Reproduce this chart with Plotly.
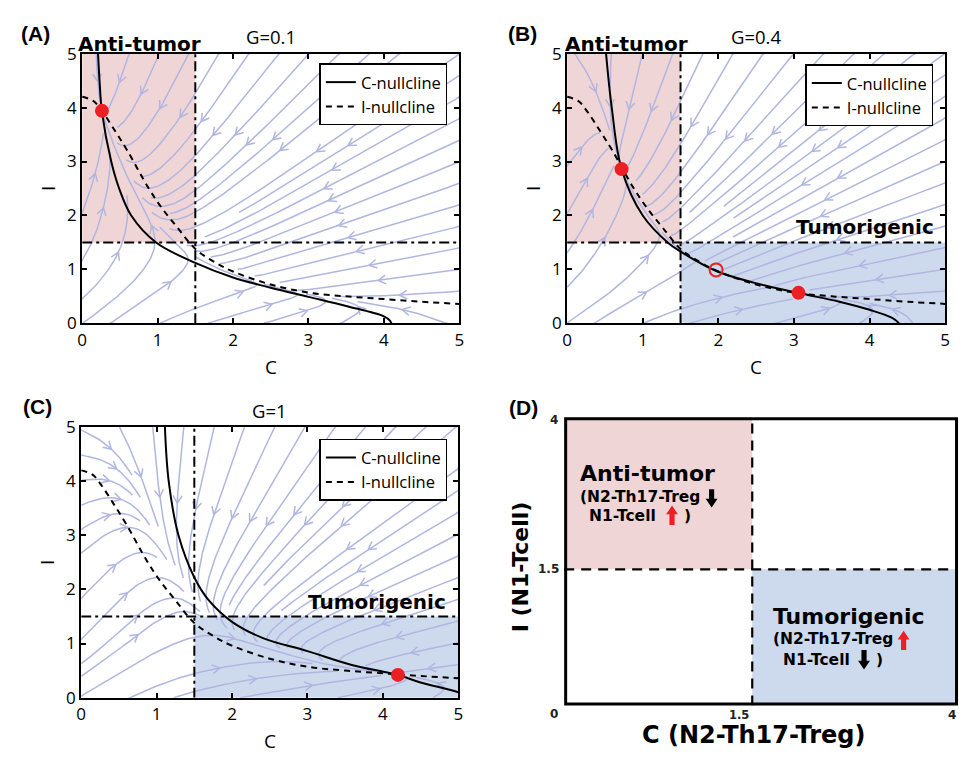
import math
import numpy as np
import plotly.graph_objects as go

# ------------------------------------------------------------------ data
AXIS_TICKS = [0, 1, 2, 3, 4, 5]
THRESHOLD = 1.5
G_TITLES = ["G=0.1", "G=0.4", "G=1"]
PANEL_LETTERS = ["(A)", "(B)", "(C)", "(D)"]

# I-nullcline (same in all panels): I as a function of C
I_NULL_C = [0.0, 0.15, 0.27, 0.43, 0.6, 0.87, 1.05, 1.26, 1.5, 1.75, 2.0, 2.5, 3.0, 3.5, 4.0, 4.5, 5.0]
I_NULL_I = [4.2, 4.12, 3.92, 3.58, 3.2, 2.53, 2.15, 1.78, 1.38, 1.14, 0.96, 0.72, 0.57, 0.5, 0.45, 0.4, 0.36]

# C-nullclines: C as a function of I
C_NULL_A_I = [0.0, 0.05, 0.13, 0.32, 0.49, 0.66, 0.85, 1.12, 1.5, 2.0, 2.5, 3.0, 3.92, 4.5, 5.0]
C_NULL_A_C = [4.1, 4.08, 4.0, 3.5, 3.0, 2.5, 2.0, 1.5, 0.98, 0.65, 0.49, 0.385, 0.262, 0.23, 0.21]

C_NULL_B_I = [0.0, 0.1, 0.25, 0.4, 0.565, 0.75, 0.965, 1.33, 1.5, 2.0, 2.86, 4.0, 5.0]
C_NULL_B_C = [4.39, 4.3, 4.0, 3.6, 3.05, 2.48, 1.98, 1.5, 1.33, 1.0, 0.72, 0.59, 0.515]

C_NULL_C_I = [0.0, 0.1, 0.28, 0.42, 0.6, 0.86, 1.1, 1.4, 1.8, 2.22, 3.0, 4.0, 5.0]
C_NULL_C_C = [5.15, 5.0, 4.5, 4.2, 3.6, 3.0, 2.41, 2.0, 1.69, 1.5, 1.29, 1.16, 1.11]

# steady states
STABLE_A_C, STABLE_A_I = [0.262], [3.94]
STABLE_B_C, STABLE_B_I = [0.72, 3.06], [2.86, 0.565]
SADDLE_B_C, SADDLE_B_I = [1.97], [0.99]
STABLE_C_C, STABLE_C_I = [4.2], [0.42]

# schematic (D): the 1.5 boundary drawn on a 0-4 schematic scale
D_RANGE = [0, 4]
D_SPLIT_X = 1.91
D_SPLIT_Y = 1.89

# ------------------------------------------------------------------ styles
W, H = 967, 761
PINK = "rgb(240,213,214)"
BLUE = "rgb(205,218,237)"
STREAM = "rgb(176,182,224)"
RED = "rgb(236,32,36)"
FONT = "Open Sans"
BOLD = "DejaVu Sans"


def PX(x):
    return x / W


def PY(y):
    return 1 - y / H


DOM = {
    "A": ([78, 459], [43, 321]),
    "B": ([568, 950], [43, 321]),
    "C": ([77, 458], [428, 707]),
    "D": ([565, 963], [418, 715]),
}


# ------------------------------------------------------------------ helpers
def pchip(x, y, xq):
    x = np.asarray(x, float)
    y = np.asarray(y, float)
    xq = np.clip(np.asarray(xq, float), x[0], x[-1])
    h = np.diff(x)
    d = np.diff(y) / h
    m = np.zeros_like(y)
    for k in range(1, len(x) - 1):
        if d[k - 1] * d[k] > 0:
            w1 = 2 * h[k] + h[k - 1]
            w2 = h[k] + 2 * h[k - 1]
            m[k] = (w1 + w2) / (w1 / d[k - 1] + w2 / d[k])

    def ends(h0, h1, d0, d1):
        s = ((2 * h0 + h1) * d0 - h0 * d1) / (h0 + h1)
        if np.sign(s) != np.sign(d0):
            s = 0.0
        elif np.sign(d0) != np.sign(d1) and abs(s) > abs(3 * d0):
            s = 3 * d0
        return s

    m[0] = ends(h[0], h[1], d[0], d[1])
    m[-1] = ends(h[-1], h[-2], d[-1], d[-2])
    k = np.clip(np.searchsorted(x, xq) - 1, 0, len(x) - 2)
    t = (xq - x[k]) / h[k]
    h00 = 2 * t**3 - 3 * t**2 + 1
    h10 = t**3 - 2 * t**2 + t
    h01 = -2 * t**3 + 3 * t**2
    h11 = t**3 - t**2
    return h00 * y[k] + h10 * h[k] * m[k] + h01 * y[k + 1] + h11 * h[k] * m[k + 1]


def spiral(n):
    xf, yf, xl, yl = 0, 0, n - 1, n - 1
    x, y = 0, 0
    d = "right"
    out = []
    for _ in range(n * n):
        out.append((x, y))
        if d == "right":
            x += 1
            if x >= xl:
                xl -= 1
                d = "up"
        elif d == "up":
            y += 1
            if y >= yl:
                yl -= 1
                d = "left"
        elif d == "left":
            x -= 1
            if x <= xf:
                xf += 1
                d = "down"
        else:
            y -= 1
            if y <= yf:
                yf += 1
                d = "right"
    return out


def streamlines(cnull_i, cnull_c, sx, sy, rate=1.0, n_seed=13, n_fine=44,
                step=2.0, min_len=45.0, max_steps=1500):
    """Phase-portrait streamlines of dC/dt = g(I)-C, dI/dt = rate*(f(C)-I),
    whose nullclines are the digitised curves above."""
    N = 500
    grid = np.linspace(0, 5, N + 1)
    gq = list(pchip(cnull_i, cnull_c, grid))
    fq = list(pchip(I_NULL_C, I_NULL_I, grid))

    def vel(c, i):
        t = min(max(i, 0.0), 5.0) * N / 5
        k = min(int(t), N - 1)
        a = t - k
        g = gq[k] + (gq[k + 1] - gq[k]) * a
        t = min(max(c, 0.0), 5.0) * N / 5
        k = min(int(t), N - 1)
        a = t - k
        f = fq[k] + (fq[k + 1] - fq[k]) * a
        return (g - c) * sx, rate * (f - i) * sy

    fine = np.zeros((n_fine, n_fine), bool)
    coarse = np.zeros((n_seed, n_seed), bool)

    def fcell(c, i):
        return (min(int(c / 5 * n_fine), n_fine - 1), min(int(i / 5 * n_fine), n_fine - 1))

    def ccell(c, i):
        return (min(int(c / 5 * n_seed), n_seed - 1), min(int(i / 5 * n_seed), n_seed - 1))

    def integrate(c, i, sgn, own):
        pts = []
        cur = fcell(c, i)
        prev = None
        for _ in range(max_steps):
            u, v = vel(c, i)
            s = math.hypot(u, v)
            if s < 0.25:
                break
            du, dv = sgn * u / s, sgn * v / s
            if prev is not None and du * prev[0] + dv * prev[1] < 0.2:
                break
            cm = c + 0.5 * step * du / sx
            im = i + 0.5 * step * dv / sy
            u2, v2 = vel(cm, im)
            s2 = math.hypot(u2, v2)
            if s2 < 1e-9:
                break
            du2, dv2 = sgn * u2 / s2, sgn * v2 / s2
            cn = c + step * du2 / sx
            inn = i + step * dv2 / sy
            if not (0 <= cn <= 5 and 0 <= inn <= 5):
                cn = min(max(cn, 0.0), 5.0)
                inn = min(max(inn, 0.0), 5.0)
                pts.append((cn, inn))
                break
            cell = fcell(cn, inn)
            if cell != cur:
                if fine[cell] and cell not in own:
                    break
                own.add(cell)
                cur = cell
            c, i = cn, inn
            pts.append((c, i))
            prev = (du2, dv2)
        return pts

    lines = []
    for (a, b) in spiral(n_seed):
        if coarse[a, b]:
            continue
        c0 = (a + 0.5) * 5 / n_seed
        i0 = (b + 0.5) * 5 / n_seed
        if fine[fcell(c0, i0)]:
            continue
        own = {fcell(c0, i0)}
        back = integrate(c0, i0, -1, own)
        fwd = integrate(c0, i0, 1, own)
        pts = back[::-1] + [(c0, i0)] + fwd
        if len(pts) < 3:
            continue
        L = sum(math.hypot((pts[k + 1][0] - pts[k][0]) * sx, (pts[k + 1][1] - pts[k][1]) * sy)
                for k in range(len(pts) - 1))
        if L < min_len:
            continue
        for cell in own:
            fine[cell] = True
        for p in pts:
            coarse[ccell(*p)] = True
        lines.append(pts)

    xs, ys = [], []
    for pts in lines:
        xs += [p[0] for p in pts] + [None]
        ys += [p[1] for p in pts] + [None]
        # arrow at the middle of the line
        seg = [math.hypot((pts[k + 1][0] - pts[k][0]) * sx, (pts[k + 1][1] - pts[k][1]) * sy)
               for k in range(len(pts) - 1)]
        tot = sum(seg)
        acc = 0.0
        k = 0
        while k < len(seg) - 1 and acc + seg[k] < tot / 2:
            acc += seg[k]
            k += 1
        k2 = min(k + 1, len(pts) - 1)
        dx = (pts[k2][0] - pts[k][0]) * sx
        dy = (pts[k2][1] - pts[k][1]) * sy
        n = math.hypot(dx, dy)
        if n == 0:
            continue
        dx, dy = dx / n, dy / n
        tx, ty = pts[k2]
        Lh, th = 9.0, math.radians(30)
        for sgn in (1, -1):
            bx = -(dx * math.cos(th) - sgn * dy * math.sin(th)) * Lh
            by = -(dy * math.cos(th) + sgn * dx * math.sin(th)) * Lh
            xs += [tx + bx / sx, tx, None]
            ys += [ty + by / sy, ty, None]
    return xs, ys


# ------------------------------------------------------------------ figure
fig = go.Figure()

panels = [
    ("A", "x", "y", "legend", C_NULL_A_I, C_NULL_A_C),
    ("B", "x2", "y2", "legend2", C_NULL_B_I, C_NULL_B_C),
    ("C", "x3", "y3", "legend3", C_NULL_C_I, C_NULL_C_C),
]

for key, xa, ya, lg, cn_i, cn_c in panels:
    (x0, x1), (y0, y1) = DOM[key]
    sx = (x1 - x0) / 5.0
    sy = (y1 - y0) / 5.0
    xs, ys = streamlines(cn_i, cn_c, sx, sy)
    fig.add_trace(go.Scatter(x=xs, y=ys, mode="lines", xaxis=xa, yaxis=ya,
                             line=dict(color=STREAM, width=1.5), hoverinfo="skip",
                             showlegend=False))
    fig.add_trace(go.Scatter(x=cn_c, y=cn_i, mode="lines", xaxis=xa, yaxis=ya,
                             line=dict(color="black", width=2, shape="spline", smoothing=1.0),
                             name="C-nullcline", legend=lg))
    fig.add_trace(go.Scatter(x=I_NULL_C, y=I_NULL_I, mode="lines", xaxis=xa, yaxis=ya,
                             line=dict(color="black", width=2, dash="6px,5px", shape="spline",
                                       smoothing=1.0),
                             name="I-nullcline", legend=lg))

stable_sets = [("x", "y", STABLE_A_C, STABLE_A_I), ("x2", "y2", STABLE_B_C, STABLE_B_I),
               ("x3", "y3", STABLE_C_C, STABLE_C_I)]
for xa, ya, cc, ii in stable_sets:
    fig.add_trace(go.Scatter(x=cc, y=ii, mode="markers", xaxis=xa, yaxis=ya,
                             marker=dict(color=RED, size=14), showlegend=False,
                             cliponaxis=False))
fig.add_trace(go.Scatter(x=SADDLE_B_C, y=SADDLE_B_I, mode="markers", xaxis="x2", yaxis="y2",
                         marker=dict(color=RED, size=13, symbol="circle-open", line=dict(width=2)),
                         showlegend=False))

# ------------------------------------------------------------------ axes
axis_style = dict(range=[0, 5], tickvals=AXIS_TICKS, ticks="inside", ticklen=5, tickwidth=1.5,
                  tickcolor="black", showline=True, linecolor="black", linewidth=2,
                  mirror="ticks", showgrid=False, zeroline=False,
                  tickfont=dict(family=FONT, size=17, color="black"))
layout = dict(width=W, height=H, margin=dict(l=0, r=0, t=0, b=0),
              paper_bgcolor="white", plot_bgcolor="white")
for key, xa, ya in [("A", "xaxis", "yaxis"), ("B", "xaxis2", "yaxis2"), ("C", "xaxis3", "yaxis3")]:
    (x0, x1), (y0, y1) = DOM[key]
    sfx = xa[5:]
    layout[xa] = dict(axis_style, domain=[PX(x0), PX(x1)], anchor="y" + sfx)
    layout[ya] = dict(axis_style, domain=[PY(y1), PY(y0)], anchor="x" + sfx)
(x0, x1), (y0, y1) = DOM["D"]
dax = dict(range=D_RANGE, showticklabels=False, ticks="", showline=False, showgrid=False,
           zeroline=False)
layout["xaxis4"] = dict(dax, domain=[PX(x0), PX(x1)], anchor="y4")
layout["yaxis4"] = dict(dax, domain=[PY(y1), PY(y0)], anchor="x4")

leg_style = dict(bgcolor="white", bordercolor="black", borderwidth=1.5, xanchor="right",
                 yanchor="top", itemwidth=30, tracegroupgap=0,
                 font=dict(family=FONT, size=16.5, color="black"))
layout["legend"] = dict(leg_style, x=PX(447), y=PY(53))
layout["legend2"] = dict(leg_style, x=PX(938), y=PY(54))
layout["legend3"] = dict(leg_style, x=PX(447), y=PY(440))
fig.update_layout(**layout)

# ------------------------------------------------------------------ shapes
shapes = []
dashdot = dict(color="black", width=2, dash="10px,4px,3px,4px")
for sfx, pink, blue in [("", True, False), ("2", True, True), ("3", False, True)]:
    xr, yr = "x" + sfx, "y" + sfx
    if pink:
        shapes.append(dict(type="rect", xref=xr, yref=yr, x0=0, x1=THRESHOLD, y0=THRESHOLD, y1=5,
                           fillcolor=PINK, line=dict(width=0), layer="below"))
    if blue:
        shapes.append(dict(type="rect", xref=xr, yref=yr, x0=THRESHOLD, x1=5, y0=0, y1=THRESHOLD,
                           fillcolor=BLUE, line=dict(width=0), layer="below"))
    shapes.append(dict(type="line", xref=xr, yref=yr, x0=THRESHOLD, x1=THRESHOLD, y0=0, y1=5,
                       line=dashdot, layer="above"))
    shapes.append(dict(type="line", xref=xr, yref=yr, x0=0, x1=5, y0=THRESHOLD, y1=THRESHOLD,
                       line=dashdot, layer="above"))

dd = dict(color="black", width=2.2, dash="10px,7px")
shapes += [
    dict(type="rect", xref="x4", yref="y4", x0=D_RANGE[0], x1=D_SPLIT_X, y0=D_SPLIT_Y, y1=D_RANGE[1],
         fillcolor=PINK, line=dict(width=0), layer="below"),
    dict(type="rect", xref="x4", yref="y4", x0=D_SPLIT_X, x1=D_RANGE[1], y0=D_RANGE[0], y1=D_SPLIT_Y,
         fillcolor=BLUE, line=dict(width=0), layer="below"),
    dict(type="line", xref="x4", yref="y4", x0=D_SPLIT_X, x1=D_SPLIT_X, y0=D_RANGE[0], y1=D_RANGE[1],
         line=dd),
    dict(type="line", xref="x4", yref="y4", x0=D_RANGE[0], x1=D_RANGE[1], y0=D_SPLIT_Y, y1=D_SPLIT_Y,
         line=dd),
    dict(type="rect", xref="x4", yref="y4", x0=D_RANGE[0], x1=D_RANGE[1], y0=D_RANGE[0],
         y1=D_RANGE[1], line=dict(color="black", width=6), fillcolor="rgba(0,0,0,0)"),
]


def block_arrow(xc, ytip, ytail, color):
    """Thick up/down arrow (as drawn next to the schematic labels), in page pixels."""
    sgn = 1 if ytail > ytip else -1
    head = 9 * sgn
    pts = [(xc, ytip), (xc + 6, ytip + head), (xc + 2.6, ytip + head), (xc + 2.6, ytail),
           (xc - 2.6, ytail), (xc - 2.6, ytip + head), (xc - 6, ytip + head)]
    path = "M " + " L ".join("%.5f,%.5f" % (PX(a), PY(b)) for a, b in pts) + " Z"
    return dict(type="path", xref="paper", yref="paper", path=path, fillcolor=color,
                line=dict(width=0), layer="above")


shapes += [
    block_arrow(714, 511, 492, "black"),
    block_arrow(674, 509, 529, RED),
    block_arrow(908, 638, 658, RED),
    block_arrow(868, 678, 658, "black"),
]
fig.update_layout(shapes=shapes)

# ------------------------------------------------------------------ annotations
ann = []


def txt(text, x, y, size, family=FONT, bold=False, xanchor="center", yanchor="middle",
        angle=0, color="black"):
    ann.append(dict(text=("<b>%s</b>" % text) if bold else text, x=PX(x), y=PY(y),
                    xref="paper", yref="paper", showarrow=False, xanchor=xanchor,
                    yanchor=yanchor, textangle=angle,
                    font=dict(family=family, size=size, color=color)))


# panel letters
for letter, (x, y) in zip(PANEL_LETTERS, [(31, 22), (523, 22), (33, 407), (524, 408)]):
    txt(letter, x, y, 21, family="Liberation Sans", bold=True)
# titles
for title, key, y in zip(G_TITLES, "ABC", [25, 25, 411]):
    (x0, x1), _ = DOM[key]
    txt(title, (x0 + x1) / 2, y, 18.5)
# axis titles
for key, ylab in zip("ABC", [366, 366, 752]):
    (x0, x1), (y0, y1) = DOM[key]
    txt("C", (x0 + x1) / 2, ylab, 19)
    txt("I", x0 - 34, (y0 + y1) / 2, 19, angle=-90)
# region labels
txt("Anti-tumor", 72, 33, 20, family=BOLD, bold=True, xanchor="left")
txt("Anti-tumor", 564, 33, 20, family=BOLD, bold=True, xanchor="left")
txt("Tumorigenic", 941, 222, 20, family=BOLD, bold=True, xanchor="right")
txt("Tumorigenic", 448, 608, 20, family=BOLD, bold=True, xanchor="right")

# schematic texts
SUB = 15.5
txt("Anti-tumor", 579, 476, 22, family=BOLD, bold=True, xanchor="left")
txt("(N2-Th17-Treg", 579, 500, SUB, family=BOLD, bold=True, xanchor="left")
txt("N1-Tcell", 588, 520, SUB, family=BOLD, bold=True, xanchor="left")
txt(")", 684, 520, SUB, family=BOLD, bold=True, xanchor="left")
txt("Tumorigenic", 774, 623, 22, family=BOLD, bold=True, xanchor="left")
txt("(N2-Th17-Treg", 774, 647, SUB, family=BOLD, bold=True, xanchor="left")
txt("N1-Tcell", 784, 668, SUB, family=BOLD, bold=True, xanchor="left")
txt(")", 878, 668, SUB, family=BOLD, bold=True, xanchor="left")
txt("C (N2-Th17-Treg)", 756, 746, 24, family=BOLD, bold=True)
txt("I (N1-Tcell)", 521, 572, 22, family=BOLD, bold=True, angle=-90)
# schematic tick labels
(dx0, dx1), (dy0, dy1) = DOM["D"]
tick_style = dict(family=BOLD, bold=True, xanchor="right", color="#222")
txt("4", dx0 - 4, dy0 + 3, 12, **tick_style)
txt("1.5", dx0 - 3, dy1 - (dy1 - dy0) * D_SPLIT_Y / D_RANGE[1], 12, **tick_style)
txt("0", dx0 - 4, dy1 + 9, 12, **tick_style)
txt("1.5", dx0 + (dx1 - dx0) * D_SPLIT_X / D_RANGE[1] - 1, dy1 + 10, 11.5, **tick_style)
txt("4", dx1, dy1 + 10, 12, **tick_style)

fig.update_layout(annotations=ann)
fig.write_html("out.html")
